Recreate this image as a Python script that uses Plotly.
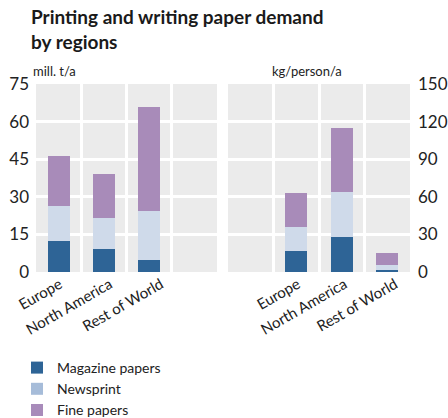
import plotly.graph_objects as go

regions = ["Europe", "North America", "Rest of World"]
series = ["Magazine papers", "Newsprint", "Fine papers"]

# mill. t/a
volume_magazine = [12.3, 9.1, 4.7]
volume_newsprint = [13.9, 12.3, 19.5]
volume_fine = [20.0, 17.6, 41.6]

# kg/person/a
percap_magazine = [16.5, 27.7, 1.6]
percap_newsprint = [19.2, 36.0, 3.8]
percap_fine = [27.2, 51.2, 9.6]

left_ticks = [0, 15, 30, 45, 60, 75]
right_ticks = [0, 30, 60, 90, 120, 150]

bar_colors = ["#2e6496", "#cfdaea", "#a88bb9"]
legend_colors = ["#2e6496", "#a6bcd9", "#a88bba"]

FONT = "Lato"
TXT = "#222222"

fig = go.Figure()

left_x = [0, 1, 2]
right_x = [1, 2, 3]
vol = [volume_magazine, volume_newsprint, volume_fine]
pc = [percap_magazine, percap_newsprint, percap_fine]

for i, name in enumerate(series):
    fig.add_trace(go.Bar(x=left_x, y=vol[i], name=name, marker_color=bar_colors[i],
                         marker_line_width=0, width=0.49, showlegend=False,
                         xaxis="x", yaxis="y"))
    fig.add_trace(go.Bar(x=right_x, y=pc[i], name=name, marker_color=bar_colors[i],
                         marker_line_width=0, width=0.49, showlegend=False,
                         xaxis="x2", yaxis="y2"))
for i, name in enumerate(series):
    fig.add_trace(go.Bar(x=[None], y=[None], name=name, marker_color=legend_colors[i],
                         marker_line_width=0, showlegend=True, xaxis="x", yaxis="y"))

W, H = 448, 418
L, R, T, B = 36, 38, 84, 146
pw = W - L - R
ph = H - T - B

def px_x(px):
    return (px - L) / pw

def px_y(py):
    return (H - B - py) / ph

grid = dict(showgrid=True, gridcolor="white", gridwidth=3)

# label anchor nudges (label ends sit slightly right of column centres)
left_label_pos = [0.02, 1.13, 2.26]
right_label_pos = [1.03, 2.06, 3.17]

xcommon = dict(range=[-0.5, 3.5], showgrid=False, zeroline=False, showline=False,
               ticks="", tickangle=-30, tickfont=dict(family=FONT, size=15, color=TXT),
               minor=dict(tickvals=[0.5, 1.5, 2.5], showgrid=True, gridcolor="white",
                          gridwidth=3, ticks=""),
               automargin=False, fixedrange=True)

fig.update_layout(
    width=W, height=H,
    margin=dict(l=L, r=R, t=T, b=B, autoexpand=False),
    paper_bgcolor="white",
    plot_bgcolor="#ebebeb",
    barmode="stack",
    font=dict(family=FONT, color=TXT),
    xaxis=dict(domain=[0, px_x(217)], tickvals=left_label_pos, ticktext=regions, **xcommon),
    xaxis2=dict(domain=[px_x(228), 1], tickvals=right_label_pos, ticktext=regions,
                anchor="y2", **xcommon),
    yaxis=dict(range=[0, 75], tickvals=left_ticks, zeroline=False, showline=False,
               ticks="", ticklabelstandoff=6, automargin=False,
               tickfont=dict(family=FONT, size=17, color=TXT), **grid),
    yaxis2=dict(range=[0, 150], tickvals=right_ticks, anchor="x2", side="right",
                zeroline=False, showline=False, ticks="", ticklabelstandoff=7,
                automargin=False,
                tickfont=dict(family=FONT, size=17, color=TXT), **grid),
    legend=dict(x=px_x(17), xanchor="left", y=px_y(352), yanchor="top",
                traceorder="normal",
                font=dict(family=FONT, size=14, color=TXT), bgcolor="rgba(0,0,0,0)",
                tracegroupgap=0, itemclick=False),
    annotations=[
        dict(text="<b>Printing and writing paper demand<br>by regions</b>",
             xref="paper", yref="paper", x=px_x(29), y=px_y(3),
             xanchor="left", yanchor="top", align="left", showarrow=False,
             font=dict(family=FONT, size=19, color="#1a1a1a")),
        dict(text="mill. t/a", xref="paper", yref="paper", x=px_x(31), y=px_y(71),
             xanchor="left", yanchor="middle", showarrow=False,
             font=dict(family=FONT, size=13, color=TXT)),
        dict(text="kg/person/a", xref="paper", yref="paper", x=px_x(270), y=px_y(71),
             xanchor="left", yanchor="middle", showarrow=False,
             font=dict(family=FONT, size=13, color=TXT)),
    ],
)

fig.write_html("out.html")
